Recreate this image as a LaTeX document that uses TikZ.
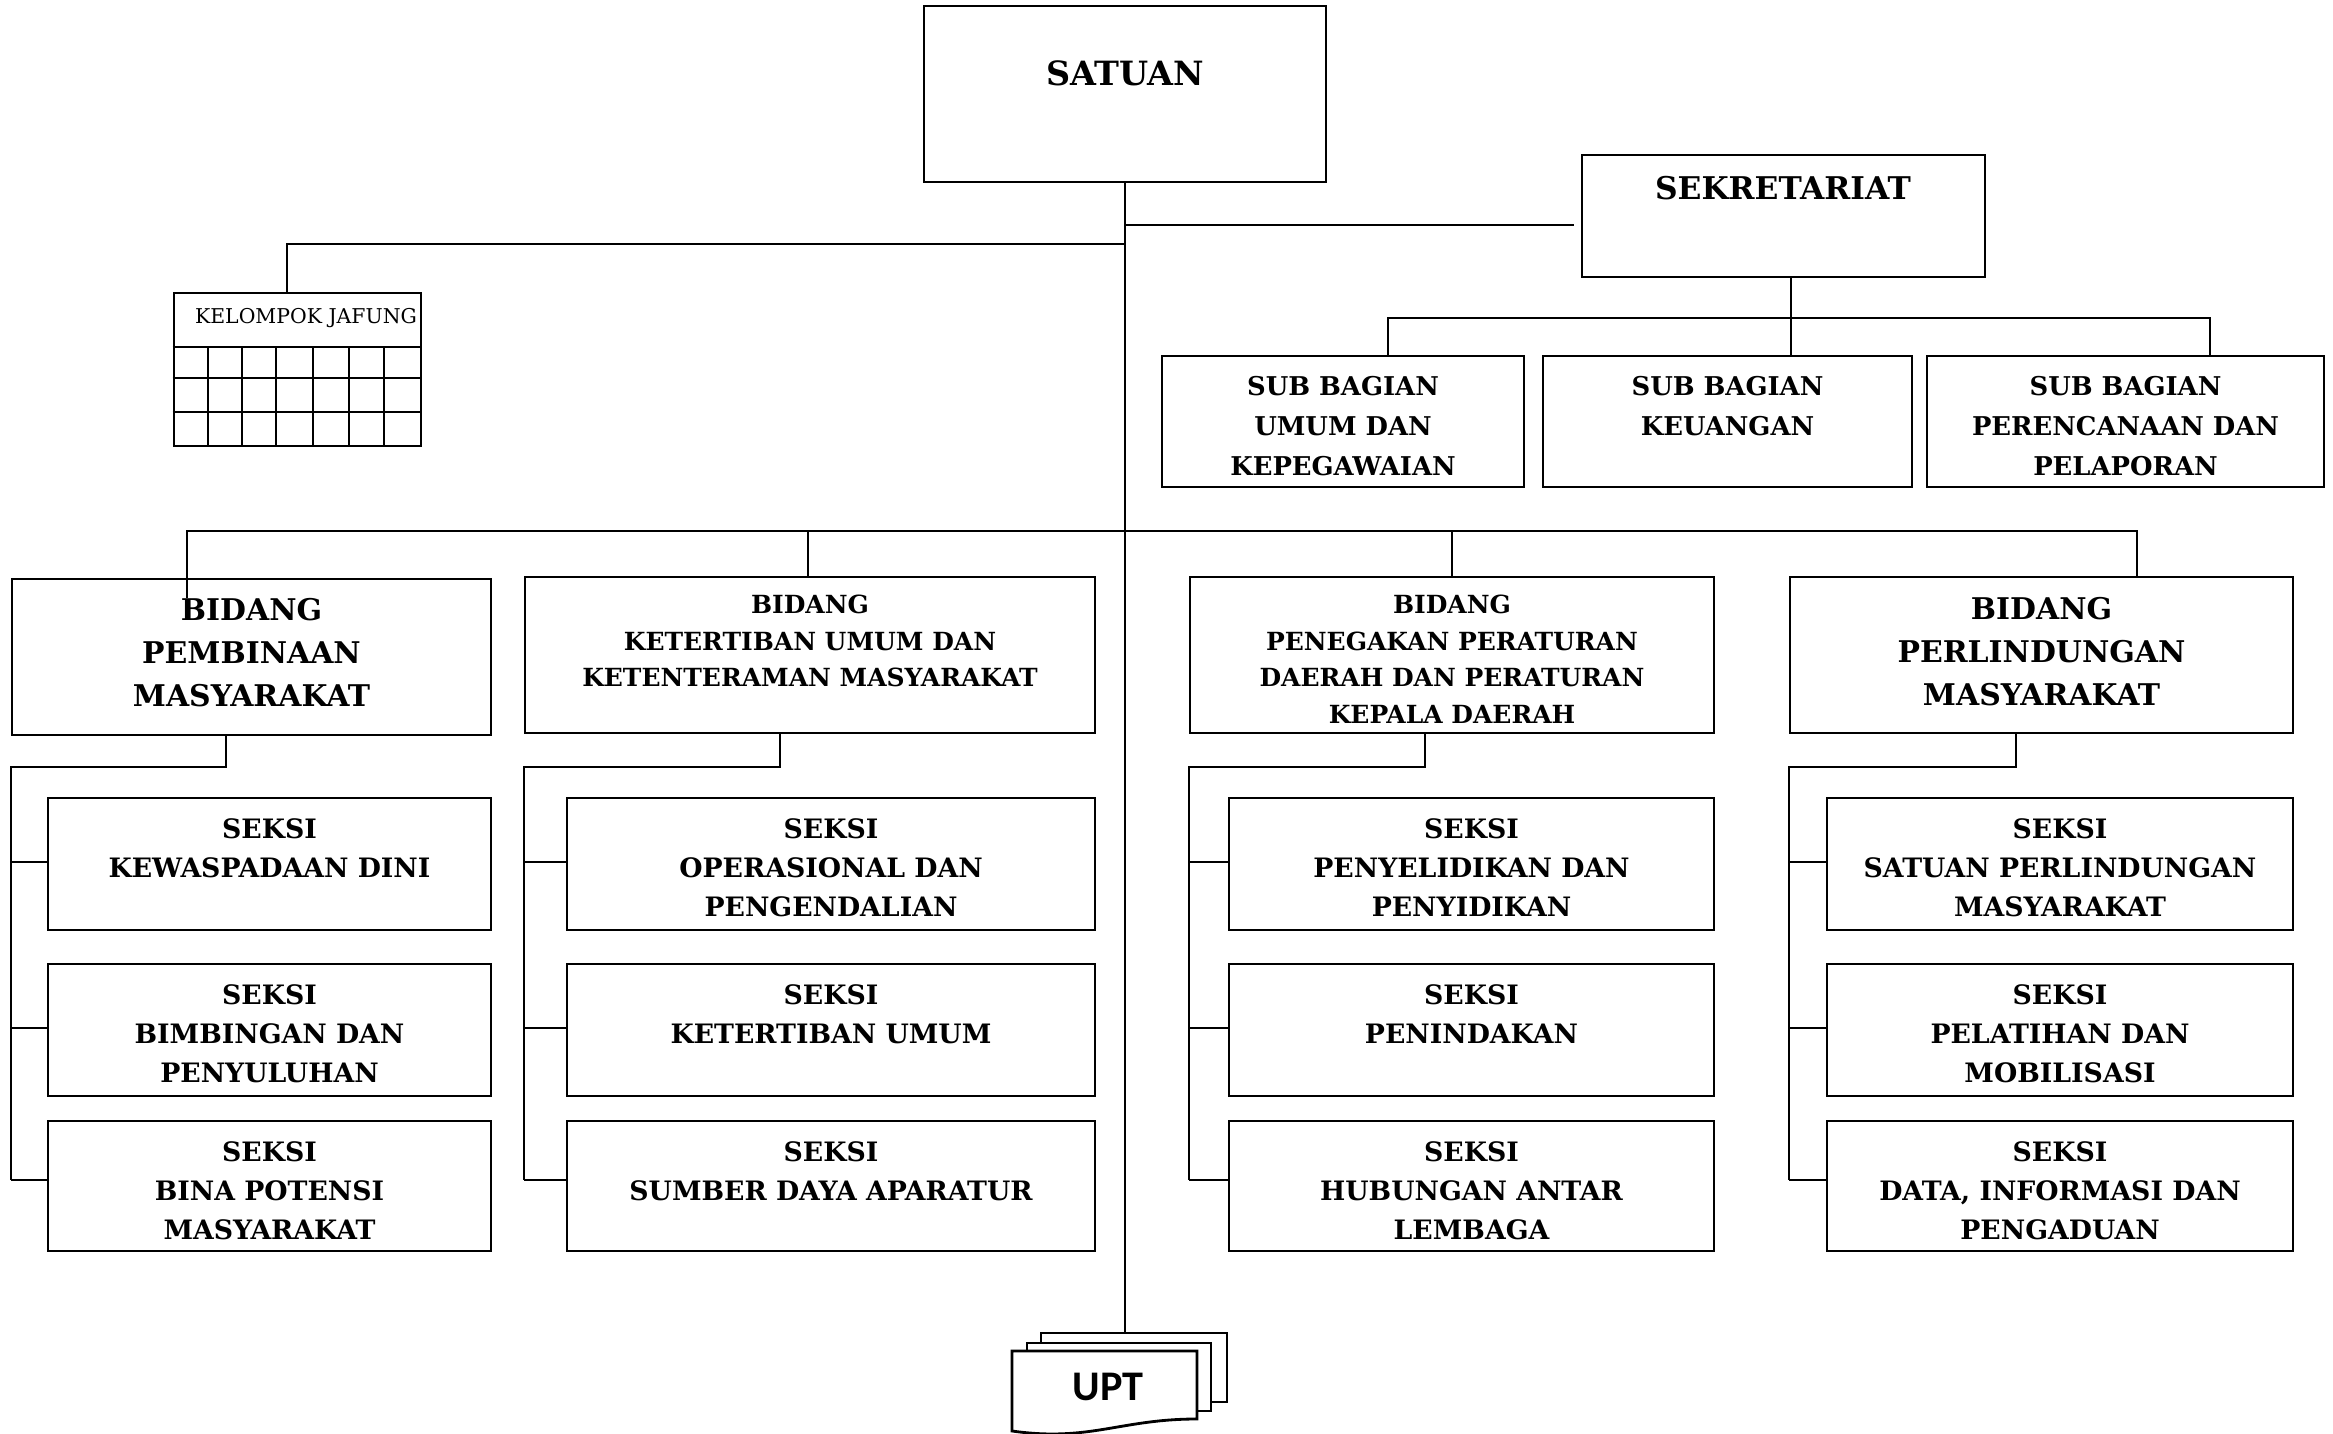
\documentclass[tikz,border=0pt]{standalone}
\usepackage{fontspec}
\setmainfont{DejaVu Serif}
\newfontfamily\uptfont{Carlito}
\usetikzlibrary{positioning}
\usetikzlibrary{fit}

\begin{document}
\begin{tikzpicture}[x=0.01cm, y=-0.01cm,
                    box/.style={rectangle, draw, thick, inner sep=0pt, fill=white},
                    line/.style={semithick},
                    bigtxt/.style={inner sep=0pt, align=center, font=\bfseries\fontsize{8.5}{12.2}\selectfont},
                    smalltxt/.style={inner sep=0pt, align=center, font=\bfseries\fontsize{7.1}{10.4}\selectfont},
                    seksitxt/.style={inner sep=0pt, align=center, font=\bfseries\fontsize{7.6}{11.2}\selectfont},
                    subtxt/.style={inner sep=0pt, align=center, font=\bfseries\fontsize{7.35}{11.4}\selectfont}
                   ]
\useasboundingbox (0,0) rectangle (2333,1434);
%Top
\node[box, fit={(924,6) (1326,182)}]    (satuan) {};
\node[inner sep=0pt, font=\bfseries\fontsize{9.5}{12}\selectfont] (tsatuan) at (1125,73) {SATUAN};
\node[box, fit={(1582,155) (1985,277)}] (sekr) {};
\node[inner sep=0pt, font=\bfseries\fontsize{8.9}{12}\selectfont] (tsekr) at (1783,188) {SEKRETARIAT};
%Sub bagian
\node[box, fit={(1162,356) (1524,487)}] (sub1) {};
\node[box, fit={(1543,356) (1912,487)}] (sub2) {};
\node[box, fit={(1927,356) (2324,487)}] (sub3) {};
\node[subtxt] (tsub1) [below=0.21cm of sub1.north] {SUB BAGIAN\\UMUM DAN\\KEPEGAWAIAN};
\node[subtxt] (tsub2) [below=0.21cm of sub2.north] {SUB BAGIAN\\KEUANGAN};
\node[subtxt] (tsub3) [below=0.21cm of sub3.north] {SUB BAGIAN\\PERENCANAAN DAN\\PELAPORAN};
%Kelompok jafung
\node[box, fit={(174,293) (421,446)}] (jaf) {};
\node[inner sep=0pt, font=\fontsize{5.8}{7}\selectfont] (tjaf) at (306,318) {KELOMPOK JAFUNG};
\draw[line] (jaf.west |- 0,347) -- (jaf.east |- 0,347);
\foreach \y in {378,412} \draw[line] (jaf.west |- 0,\y) -- (jaf.east |- 0,\y);
\foreach \x in {208,242,276,313,349,384} \draw[line] (\x,347) -- (\x,446);
%Bidang
\node[box, fit={(12,579) (491,735)}]    (bid1) {};
\node[box, fit={(525,577) (1095,733)}]  (bid2) {};
\node[box, fit={(1190,577) (1714,733)}] (bid3) {};
\node[box, fit={(1790,577) (2293,733)}] (bid4) {};
\node[bigtxt]   (tbid1) [below=0.20cm of bid1.north] {BIDANG\\PEMBINAAN\\MASYARAKAT};
\node[smalltxt] (tbid2) [below=0.19cm of bid2.north] {BIDANG\\KETERTIBAN UMUM DAN\\KETENTERAMAN MASYARAKAT};
\node[smalltxt] (tbid3) [below=0.19cm of bid3.north] {BIDANG\\PENEGAKAN PERATURAN\\DAERAH DAN PERATURAN\\KEPALA DAERAH};
\node[bigtxt]   (tbid4) [below=0.21cm of bid4.north] {BIDANG\\PERLINDUNGAN\\MASYARAKAT};
%Seksi
\node[box, fit={(48,798) (491,930)}]     (s11) {};
\node[box, fit={(48,964) (491,1096)}]    (s12) {};
\node[box, fit={(48,1121) (491,1251)}]   (s13) {};
\node[box, fit={(567,798) (1095,930)}]   (s21) {};
\node[box, fit={(567,964) (1095,1096)}]  (s22) {};
\node[box, fit={(567,1121) (1095,1251)}] (s23) {};
\node[box, fit={(1229,798) (1714,930)}]   (s31) {};
\node[box, fit={(1229,964) (1714,1096)}]  (s32) {};
\node[box, fit={(1229,1121) (1714,1251)}] (s33) {};
\node[box, fit={(1827,798) (2293,930)}]   (s41) {};
\node[box, fit={(1827,964) (2293,1096)}]  (s42) {};
\node[box, fit={(1827,1121) (2293,1251)}] (s43) {};
\node[seksitxt] (ts11) [below=0.21cm of s11.north] {SEKSI\\KEWASPADAAN DINI};
\node[seksitxt] (ts12) [below=0.21cm of s12.north] {SEKSI\\BIMBINGAN DAN\\PENYULUHAN};
\node[seksitxt] (ts13) [below=0.21cm of s13.north] {SEKSI\\BINA POTENSI\\MASYARAKAT};
\node[seksitxt] (ts21) [below=0.21cm of s21.north] {SEKSI\\OPERASIONAL DAN\\PENGENDALIAN};
\node[seksitxt] (ts22) [below=0.21cm of s22.north] {SEKSI\\KETERTIBAN UMUM};
\node[seksitxt] (ts23) [below=0.21cm of s23.north] {SEKSI\\SUMBER DAYA APARATUR};
\node[seksitxt] (ts31) [below=0.21cm of s31.north] {SEKSI\\PENYELIDIKAN DAN\\PENYIDIKAN};
\node[seksitxt] (ts32) [below=0.21cm of s32.north] {SEKSI\\PENINDAKAN};
\node[seksitxt] (ts33) [below=0.21cm of s33.north] {SEKSI\\HUBUNGAN ANTAR\\LEMBAGA};
\node[seksitxt] (ts41) [below=0.21cm of s41.north] {SEKSI\\SATUAN PERLINDUNGAN\\MASYARAKAT};
\node[seksitxt] (ts42) [below=0.21cm of s42.north] {SEKSI\\PELATIHAN DAN\\MOBILISASI};
\node[seksitxt] (ts43) [below=0.21cm of s43.north] {SEKSI\\DATA, INFORMASI DAN\\PENGADUAN};
%UPT
\node[box, fit={(1041,1333) (1227,1402)}] (uptc) {};
\node[box, fit={(1027,1343) (1211,1411)}] (uptb) {};
\draw[thick, fill=white] (1012,1351) -- (1197,1351) -- (1197,1419)
     .. controls (1120,1419) and (1090,1442) .. (1012,1431) -- cycle;
\node[inner sep=0pt, font=\uptfont\bfseries\fontsize{12}{14}\selectfont] (upt) at (1108,1387) {UPT};
% %Lines
\draw[line] (satuan.south) -- (uptc.north -| satuan.south);
\draw[line] (satuan.south |- 0,225) -- (1574,225);
\draw[line] (satuan.south |- 0,244) -| (287,293);
\draw[line] (sekr.south -| 1791,0) -- (sub2.north -| 1791,0);
\draw[line] (1388,356) |- (2210,318) -- (2210,356);
\draw[line] (187,598) |- (2137,531) -- (bid4.north -| 2137,0);
\draw[line] (808,531) -- (bid2.north -| 808,0);
\draw[line] (1452,531) -- (bid3.north);
\foreach \b/\d in {1/226, 2/780, 3/1425, 4/2016} {
  \draw[line] (bid\b.south -| \d,0) |- (bid\b.west |- 0,767) -- (bid\b.west |- 0,1180);
  \draw[line] (bid\b.west |- 0,862) -- (s\b1.west |- 0,862);
  \draw[line] (bid\b.west |- 0,1028) -- (s\b2.west |- 0,1028);
  \draw[line] (bid\b.west |- 0,1180) -- (s\b3.west |- 0,1180);
}
\end{tikzpicture}
\end{document}
